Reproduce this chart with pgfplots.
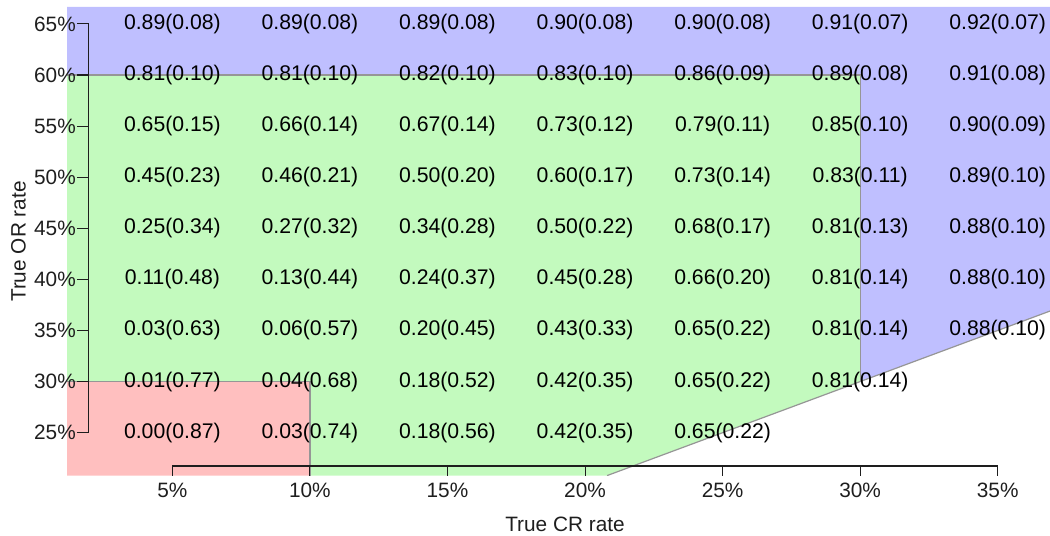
\documentclass[border=0pt]{standalone}
\usepackage{fontspec}
\setmainfont{Liberation Sans}
\usepackage{pgfplots}
\pgfplotsset{compat=1.18}
\usepackage{pgfplotstable}

\definecolor{bluefill}{RGB}{191,191,255}
\definecolor{greenfill}{RGB}{195,250,190}
\definecolor{redfill}{RGB}{255,191,191}
\definecolor{edgegray}{RGB}{150,150,150}
\definecolor{axiscol}{RGB}{30,30,30}

\pgfplotstableread{
x y label
5 65 0.89(0.08)
10 65 0.89(0.08)
15 65 0.89(0.08)
20 65 0.90(0.08)
25 65 0.90(0.08)
30 65 0.91(0.07)
35 65 0.92(0.07)
5 60 0.81(0.10)
10 60 0.81(0.10)
15 60 0.82(0.10)
20 60 0.83(0.10)
25 60 0.86(0.09)
30 60 0.89(0.08)
35 60 0.91(0.08)
5 55 0.65(0.15)
10 55 0.66(0.14)
15 55 0.67(0.14)
20 55 0.73(0.12)
25 55 0.79(0.11)
30 55 0.85(0.10)
35 55 0.90(0.09)
5 50 0.45(0.23)
10 50 0.46(0.21)
15 50 0.50(0.20)
20 50 0.60(0.17)
25 50 0.73(0.14)
30 50 0.83(0.11)
35 50 0.89(0.10)
5 45 0.25(0.34)
10 45 0.27(0.32)
15 45 0.34(0.28)
20 45 0.50(0.22)
25 45 0.68(0.17)
30 45 0.81(0.13)
35 45 0.88(0.10)
5 40 0.11(0.48)
10 40 0.13(0.44)
15 40 0.24(0.37)
20 40 0.45(0.28)
25 40 0.66(0.20)
30 40 0.81(0.14)
35 40 0.88(0.10)
5 35 0.03(0.63)
10 35 0.06(0.57)
15 35 0.20(0.45)
20 35 0.43(0.33)
25 35 0.65(0.22)
30 35 0.81(0.14)
35 35 0.88(0.10)
5 30 0.01(0.77)
10 30 0.04(0.68)
15 30 0.18(0.52)
20 30 0.42(0.35)
25 30 0.65(0.22)
30 30 0.81(0.14)
5 25 0.00(0.87)
10 25 0.03(0.74)
15 25 0.18(0.56)
20 25 0.42(0.35)
25 25 0.65(0.22)
}\cells

\begin{document}
\begin{tikzpicture}
\begin{axis}[
  scale only axis, width=983pt, height=468.6pt,
  xmin=1.17, xmax=36.9, ymin=20.8, ymax=66.65,
  axis on top,
  axis line style={draw=none}, major tick length=0pt,
  xtick={5,10,15,20,25,30,35},
  xticklabels={5\%,10\%,15\%,20\%,25\%,30\%,35\%},
  ytick={25,30,35,40,45,50,55,60,65},
  yticklabels={25\%,30\%,35\%,40\%,45\%,50\%,55\%,60\%,65\%},
  tick label style={font=\fontsize{20.8}{24}\selectfont, text=axiscol, inner sep=0pt},
  xticklabel style={anchor=north, yshift=-7pt},
  yticklabel style={anchor=east, xshift=9pt},
  xlabel={True CR rate},
  ylabel={True OR rate},
  label style={font=\fontsize{20.8}{24}\selectfont, text=axiscol, inner sep=0pt},
  xlabel style={at={(axis description cs:0.5066,-0.103)}, anchor=center},
  ylabel style={at={(axis description cs:-0.0493,0.4993)}, anchor=center},
]
% regions
\addplot[fill=bluefill, draw=none] coordinates {(1.17,60) (1.17,66.65) (36.9,66.65) (36.9,36.9) (30,30) (30,60) (1.17,60)};
\addplot[fill=greenfill, draw=none] coordinates {(1.17,30) (1.17,60) (30,60) (30,30) (20.8,20.8) (10,20.8) (10,30) (1.17,30)};
\addplot[fill=redfill, draw=none] coordinates {(1.17,20.8) (10,20.8) (10,30) (1.17,30) (1.17,20.8)};
% region borders
\addplot[edgegray, line width=1.2pt] coordinates {(1.17,60) (30,60) (30,30)};
\addplot[edgegray, line width=1.2pt] coordinates {(20.8,20.8) (36.9,36.9)};
\addplot[edgegray, line width=1.2pt] coordinates {(1.17,30) (10,30) (10,20.8)};
% axes (R style)
\addplot[axiscol, line width=1.1pt] coordinates {(1.53,25) (1.96,25) (1.96,65) (1.53,65)};
\addplot[axiscol, line width=1.1pt] coordinates {(5,20.79) (5,21.74) (35,21.74) (35,20.79)};
\pgfplotsinvokeforeach{30,35,40,45,50,55,60}{
  \draw[axiscol, line width=1.1pt] (axis cs:1.53,#1) -- (axis cs:1.96,#1);
}
\pgfplotsinvokeforeach{10,15,20,25,30}{
  \draw[axiscol, line width=1.1pt] (axis cs:#1,20.79) -- (axis cs:#1,21.74);
}
% cell values
\addplot[only marks, mark=none, point meta=explicit symbolic,
  nodes near coords,
  nodes near coords style={anchor=center, font=\fontsize{21.2}{24}\selectfont, text=black, inner sep=0pt}]
  table[x=x, y=y, meta=label] {\cells};
% bounding box corners
\coordinate (bbl) at (axis description cs:-0.06816,-0.12865);
\coordinate (btr) at (axis description cs:1,1.01494);
\end{axis}
\pgfresetboundingbox
\useasboundingbox (bbl) rectangle (btr);
\end{tikzpicture}
\end{document}
